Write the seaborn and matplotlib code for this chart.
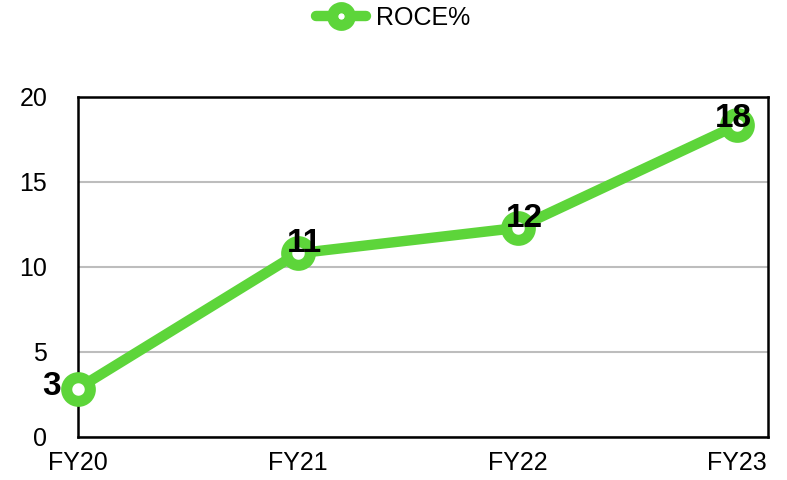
import matplotlib
matplotlib.use("Agg")
import matplotlib.pyplot as plt
import seaborn as sns
import pandas as pd

# data
years = ["FY20", "FY21", "FY22", "FY23"]
roce = [2.85, 10.8, 12.3, 18.35]
labels = ["3", "11", "12", "18"]

GREEN = "#5dd53a"

sns.set_style("white")
plt.rcParams["font.family"] = ["Liberation Sans", "DejaVu Sans"]
plt.rcParams["text.color"] = "black"
plt.rcParams["xtick.color"] = "black"
plt.rcParams["ytick.color"] = "black"

df = pd.DataFrame({"Year": years, "ROCE%": roce})
df["x"] = range(len(years))

fig = plt.figure(figsize=(7.87, 4.8), dpi=100)
ax = fig.add_axes([0.099, 0.0896, 0.877, 0.7084])

sns.lineplot(
    data=df, x="x", y="ROCE%", ax=ax,
    color=GREEN, linewidth=7.5, marker="o", markersize=17,
    markerfacecolor="white", markeredgecolor=GREEN, markeredgewidth=8,
    label="ROCE%", zorder=3, clip_on=False
)

# value labels
offsets = [(-19, 1.5), (5, 7), (5, 7), (-3, 5)]
for x, y, t, off in zip(df["x"], roce, labels, offsets):
    ax.annotate(t, (x, y), xytext=off, textcoords="offset points",
                ha="center", va="center", fontsize=24, fontweight="bold",
                color="black", zorder=5)

ax.set_xlim(0, 3.14)
ax.set_ylim(0, 20)
ax.set_yticks([0, 5, 10, 15, 20])
ax.set_xticks(df["x"])
ax.set_xticklabels(years)
ax.yaxis.grid(True, color="#bdbdbd", linewidth=1.5)
ax.set_axisbelow(True)
ax.tick_params(axis="y", length=0, pad=22, labelsize=18, labelcolor="black")
ax.tick_params(axis="x", length=0, pad=10, labelsize=18, labelcolor="black")
ax.set_xlabel("")
ax.set_ylabel("")
for s in ax.spines.values():
    s.set_color("black")
    s.set_linewidth(1.8)

leg = ax.legend(loc="upper center", bbox_to_anchor=(0.5, 1.035), bbox_transform=fig.transFigure,
                frameon=False, fontsize=18, handlelength=2.0, handletextpad=0.4,
                markerscale=0.75)
for t in leg.get_texts():
    t.set_color("black")

fig.savefig("out.png", dpi=100)
